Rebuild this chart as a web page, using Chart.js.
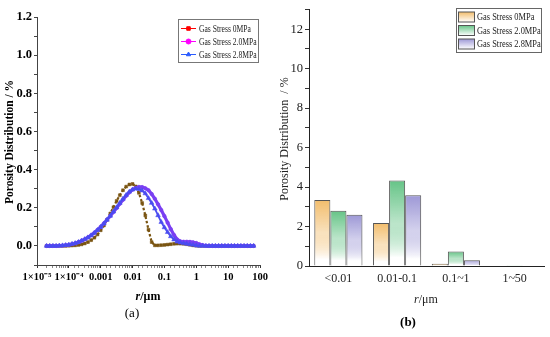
<!DOCTYPE html>
<html>
<head>
<meta charset="utf-8">
<script src="https://cdn.jsdelivr.net/npm/chart.js@4.4.1/dist/chart.umd.min.js"></script>
<style>
  html, body { margin: 0; padding: 0; background: #fff; }
  #wrap { position: relative; width: 550px; height: 337px; }
  canvas { position: absolute; top: 0; }
  #chartA { left: 0; }
  #chartB { left: 275px; }
</style>
</head>
<body>
<div id="wrap">
  <canvas id="chartA" width="275" height="337"></canvas>
  <canvas id="chartB" width="275" height="337"></canvas>
</div>
<script>
// ---- data: panel (a), pore radius r (um) and porosity distribution (%)
const seriesNames = ['Gas Stress 0MPa', 'Gas Stress 2.0MPa', 'Gas Stress 2.8MPa'];

const radius = [
    2.00e-5, 2.51e-5, 3.16e-5, 3.98e-5, 5.01e-5, 6.31e-5, 7.94e-5,
    1.00e-4, 1.26e-4, 1.58e-4, 2.00e-4, 2.51e-4, 3.16e-4, 3.98e-4, 5.01e-4, 6.31e-4, 7.94e-4,
    1.00e-3, 1.26e-3, 1.58e-3, 2.00e-3, 2.51e-3, 3.16e-3, 3.98e-3, 5.01e-3, 6.31e-3, 7.94e-3,
    0.0100, 0.0126, 0.0158, 0.0200, 0.0251, 0.0316, 0.0398, 0.0501, 0.0631, 0.0794,
    0.100, 0.126, 0.158, 0.200, 0.251, 0.316, 0.398, 0.501, 0.631, 0.794,
    1.00, 1.26, 1.58, 2.00, 2.51, 3.16, 3.98, 5.01, 6.31, 7.94,
    10.0, 12.6, 15.8, 20.0, 25.1, 31.6, 39.8, 50.1, 63.1
];

const stress0 = [
    0, 0, 0, 0, 0, 0, 0,
    0.001, 0.002, 0.003, 0.005, 0.008, 0.013, 0.020, 0.030, 0.043, 0.060,
    0.082, 0.107, 0.137, 0.170, 0.203, 0.236, 0.266, 0.292, 0.311, 0.322,
    0.325, 0.312, 0.278, 0.225, 0.160, 0.085, 0.020, 0.003, 0.003, 0.004,
    0.005, 0.007, 0.009, 0.011, 0.012, 0.012, 0.011, 0.009, 0.006, 0.003,
    0.001, 0, 0, 0, 0, 0, 0, 0, 0, 0,
    0, 0, 0, 0, 0, 0, 0, 0, 0
];

const stress20 = [
    0, 0, 0, 0, 0.001, 0.002, 0.004,
    0.006, 0.010, 0.014, 0.020, 0.027, 0.035, 0.045, 0.056, 0.069, 0.084,
    0.100, 0.118, 0.137, 0.157, 0.178, 0.199, 0.221, 0.242, 0.263, 0.281,
    0.295, 0.304, 0.309, 0.308, 0.302, 0.292, 0.272, 0.247, 0.218, 0.188,
    0.156, 0.122, 0.088, 0.057, 0.034, 0.024, 0.022, 0.022, 0.021, 0.019,
    0.015, 0.009, 0.004, 0.001, 0, 0, 0, 0, 0, 0,
    0, 0, 0, 0, 0, 0, 0, 0, 0
];

const stress28 = [
    0, 0, 0, 0, 0.001, 0.002, 0.004,
    0.006, 0.010, 0.014, 0.020, 0.027, 0.035, 0.044, 0.055, 0.068, 0.083,
    0.099, 0.117, 0.137, 0.158, 0.180, 0.202, 0.225, 0.247, 0.267, 0.284,
    0.295, 0.300, 0.298, 0.290, 0.275, 0.250, 0.225, 0.195, 0.160, 0.125,
    0.097, 0.072, 0.050, 0.033, 0.022, 0.017, 0.014, 0.011, 0.008, 0.005,
    0.002, 0, 0, 0, 0, 0, 0, 0, 0, 0,
    0, 0, 0, 0, 0, 0, 0, 0, 0
];

const xTickLabelsA = ['1×10⁻⁵', '1×10⁻⁴', '0.001', '0.01', '0.1', '1', '10', '100'];
const yTickLabelsA = ['0.0', '0.2', '0.4', '0.6', '0.8', '1.0', '1.2'];

// ---- data: panel (b), porosity per pore size range (%)
const ranges = ['<0.01', '0.01-0.1', '0.1~1', '1~50'];
const bar0 = [3.35, 2.18, 0.12, 0];
const bar20 = [2.80, 4.33, 0.74, 0.04];
const bar28 = [2.60, 3.58, 0.29, 0];
const yTickLabelsB = ['0', '2', '4', '6', '8', '10', '12'];

// ---- styles
const SERIF = '"Liberation Serif", "Times New Roman", serif';
const lineColors = ['#7a5512', '#7a3ff2', '#4a4cf0'];
const legendColorsA = ['#ff0000', '#ff00ff', '#2b5cff'];
const pointStyles = ['rect', 'circle', 'triangle'];
const barColors = ['#f2bd6c', '#66c487', '#9d98d6'];

function toPoints(values) {
    return radius.map((r, i) => ({ x: r, y: values[i] }));
}

function barFill(hex) {
    return (c) => {
        const chart = c.chart;
        const y = chart.scales.y;
        if (!y || typeof c.raw !== 'number' || c.raw <= 0) return hex;
        const top = y.getPixelForValue(c.raw);
        const bottom = y.getPixelForValue(0);
        if (!isFinite(top) || bottom - top < 1) return hex;
        const g = chart.ctx.createLinearGradient(0, top, 0, bottom);
        g.addColorStop(0, hex);
        g.addColorStop(0.5, hex + '70');
        g.addColorStop(0.9, '#ffffff');
        return g;
    };
}

function drawRotated(ctx, text, x, y, font, color) {
    ctx.save();
    ctx.translate(x, y);
    ctx.rotate(-Math.PI / 2);
    ctx.font = font;
    ctx.fillStyle = color;
    ctx.textAlign = 'center';
    ctx.textBaseline = 'middle';
    ctx.fillText(text, 0, 0);
    ctx.restore();
}

// legend text is a narrow Times face in the original, squeeze it a bit
function drawNarrow(ctx, text, x, y, font, sx) {
    ctx.save();
    ctx.translate(x, y);
    ctx.scale(sx, 1);
    ctx.font = font;
    ctx.textBaseline = 'middle';
    ctx.fillText(text, 0, 0);
    ctx.restore();
}

// "r" in italics, "/μm" upright, centred on cx
function drawRUnit(ctx, cx, cy, weight, size, color) {
    const it = `italic ${weight} ${size}px ${SERIF}`;
    const up = `${weight} ${size}px ${SERIF}`;
    ctx.save();
    ctx.fillStyle = color;
    ctx.textBaseline = 'middle';
    ctx.font = it;
    const w1 = ctx.measureText('r').width;
    ctx.font = up;
    const w2 = ctx.measureText('/μm').width;
    let x = cx - (w1 + w2) / 2;
    ctx.font = it;
    ctx.fillText('r', x, cy);
    ctx.font = up;
    ctx.fillText('/μm', x + w1, cy);
    ctx.restore();
}

const decorA = {
    id: 'decorA',
    afterDraw(chart) {
        const ctx = chart.ctx;
        // legend box
        ctx.save();
        ctx.strokeStyle = '#777';
        ctx.lineWidth = 1;
        ctx.strokeRect(178.5, 19.5, 80, 43);
        chart.data.datasets.forEach((ds, i) => {
            const y = 28.5 + i * 13;
            ctx.strokeStyle = legendColorsA[i];
            ctx.fillStyle = legendColorsA[i];
            ctx.lineWidth = 1;
            ctx.beginPath();
            ctx.moveTo(181, y);
            ctx.lineTo(196, y);
            ctx.stroke();
            Chart.helpers.drawPoint(ctx, { pointStyle: pointStyles[i], radius: 2.5, rotation: 0, borderWidth: 1 }, 188.5, y);
            ctx.fillStyle = '#222';
            drawNarrow(ctx, ds.label, 199, y + 0.5, `9.5px ${SERIF}`, 0.8);
        });
        ctx.restore();

        drawRotated(ctx, 'Porosity Distribution / %', 10, 142, `bold 11.5px ${SERIF}`, '#000');
        drawRUnit(ctx, 148, 297, 'bold', 12, '#000');
        ctx.save();
        ctx.font = `13px ${SERIF}`;
        ctx.fillStyle = '#000';
        ctx.textAlign = 'center';
        ctx.textBaseline = 'middle';
        ctx.fillText('(a)', 132, 314);
        ctx.restore();
    }
};

const decorB = {
    id: 'decorB',
    afterDraw(chart) {
        const ctx = chart.ctx;
        ctx.save();
        ctx.strokeStyle = '#666';
        ctx.lineWidth = 1;
        ctx.strokeRect(181.5, 8.5, 85, 44);
        chart.data.datasets.forEach((ds, i) => {
            const y = 17 + i * 13.5;
            const g = ctx.createLinearGradient(0, y - 5, 0, y + 5);
            g.addColorStop(0, barColors[i]);
            g.addColorStop(1, '#ffffff');
            ctx.fillStyle = g;
            ctx.fillRect(183.5, y - 5, 16, 10);
            ctx.strokeStyle = '#555';
            ctx.strokeRect(183.5, y - 5, 16, 10);
            ctx.fillStyle = '#222';
            drawNarrow(ctx, ds.label, 202, y + 0.5, `10.5px ${SERIF}`, 0.8);
        });
        ctx.restore();

        drawRotated(ctx, 'Porosity Distribution  / %', 10, 139, `12px ${SERIF}`, '#222');
        drawRUnit(ctx, 151, 300, 'normal', 12, '#222');
        ctx.save();
        ctx.font = `bold 13px ${SERIF}`;
        ctx.fillStyle = '#000';
        ctx.textAlign = 'center';
        ctx.textBaseline = 'middle';
        ctx.fillText('(b)', 133, 323);
        ctx.restore();
    }
};

function renderLineChart() {
    const ctx = document.getElementById('chartA').getContext('2d');
    const sets = [stress0, stress20, stress28];

    new Chart(ctx, {
        type: 'line',
        data: {
            datasets: sets.map((vals, i) => ({
                label: seriesNames[i],
                data: toPoints(vals),
                borderColor: lineColors[i],
                backgroundColor: lineColors[i],
                borderWidth: [2.2, 3.2, 1.8][i],
                borderDash: i === 0 ? [2.5, 2] : [],
                pointStyle: pointStyles[i],
                pointRadius: [2, 1.8, 2.7][i],
                pointBorderWidth: 0.5,
                tension: 0,
                order: [2, 1, 0][i]
            }))
        },
        options: {
            responsive: false,
            animation: false,
            devicePixelRatio: 1,
            layout: { padding: { top: 17, right: 15, left: 0, bottom: 0 } },
            plugins: { legend: { display: false }, tooltip: { enabled: false } },
            scales: {
                x: {
                    type: 'logarithmic',
                    min: 1e-5,
                    max: 100,
                    grid: {
                        display: true,
                        drawOnChartArea: false,
                        tickLength: 3,
                        tickColor: (c) => (c.tick && c.tick.label !== '' ? '#333' : '#888')
                    },
                    border: { color: '#444', width: 1 },
                    ticks: {
                        autoSkip: false,
                        maxRotation: 0,
                        padding: 3,
                        color: '#000',
                        font: { family: SERIF, size: 10.5, weight: 'bold' },
                        callback: (v) => {
                            const e = Math.log10(v);
                            if (Math.abs(e - Math.round(e)) > 1e-6) return '';
                            return xTickLabelsA[Math.round(e) + 5] || '';
                        }
                    },
                    afterFit: (s) => { s.height = 72; }
                },
                y: {
                    min: -0.1,
                    max: 1.2,
                    grid: {
                        display: true,
                        drawOnChartArea: false,
                        tickLength: 3,
                        tickColor: '#444'
                    },
                    border: { color: '#444', width: 1 },
                    ticks: {
                        stepSize: 0.1,
                        padding: 2,
                        color: '#000',
                        font: { family: SERIF, size: 12.5, weight: 'bold' },
                        callback: (v) => {
                            const k = Math.round(v * 10);
                            if (k < 0 || k % 2 !== 0) return '';
                            return yTickLabelsA[k / 2] || '';
                        }
                    },
                    afterFit: (s) => { s.width = 37; }
                }
            }
        },
        plugins: [decorA]
    });
}

function renderBarChart() {
    const ctx = document.getElementById('chartB').getContext('2d');
    const sets = [bar0, bar20, bar28];

    new Chart(ctx, {
        type: 'bar',
        data: {
            labels: ranges,
            datasets: sets.map((vals, i) => ({
                label: seriesNames[i],
                data: vals,
                backgroundColor: barFill(barColors[i]),
                borderColor: '#555',
                borderWidth: 1,
                borderSkipped: 'bottom',
                categoryPercentage: 0.82,
                barPercentage: 1
            }))
        },
        options: {
            responsive: false,
            animation: false,
            devicePixelRatio: 1,
            layout: { padding: { top: 7, right: 6, left: 0, bottom: 0 } },
            plugins: { legend: { display: false }, tooltip: { enabled: false } },
            scales: {
                x: {
                    grid: { display: false, drawTicks: false },
                    border: { display: true, color: '#222', width: 1 },
                    ticks: {
                        padding: 6,
                        color: '#222',
                        font: { family: SERIF, size: 12 }
                    },
                    afterFit: (s) => { s.height = 71; }
                },
                y: {
                    min: 0,
                    max: 13,
                    grid: {
                        display: true,
                        drawOnChartArea: false,
                        tickLength: 4,
                        tickColor: '#333'
                    },
                    border: { color: '#222', width: 1 },
                    ticks: {
                        stepSize: 1,
                        padding: 2,
                        color: '#222',
                        font: { family: SERIF, size: 12.5 },
                        callback: (v) => (v % 2 === 0 ? (yTickLabelsB[v / 2] || '') : '')
                    },
                    afterFit: (s) => { s.width = 34; }
                }
            }
        },
        plugins: [decorB]
    });
}

document.addEventListener('DOMContentLoaded', () => {
    renderLineChart();
    renderBarChart();
});
</script>
</body>
</html>
